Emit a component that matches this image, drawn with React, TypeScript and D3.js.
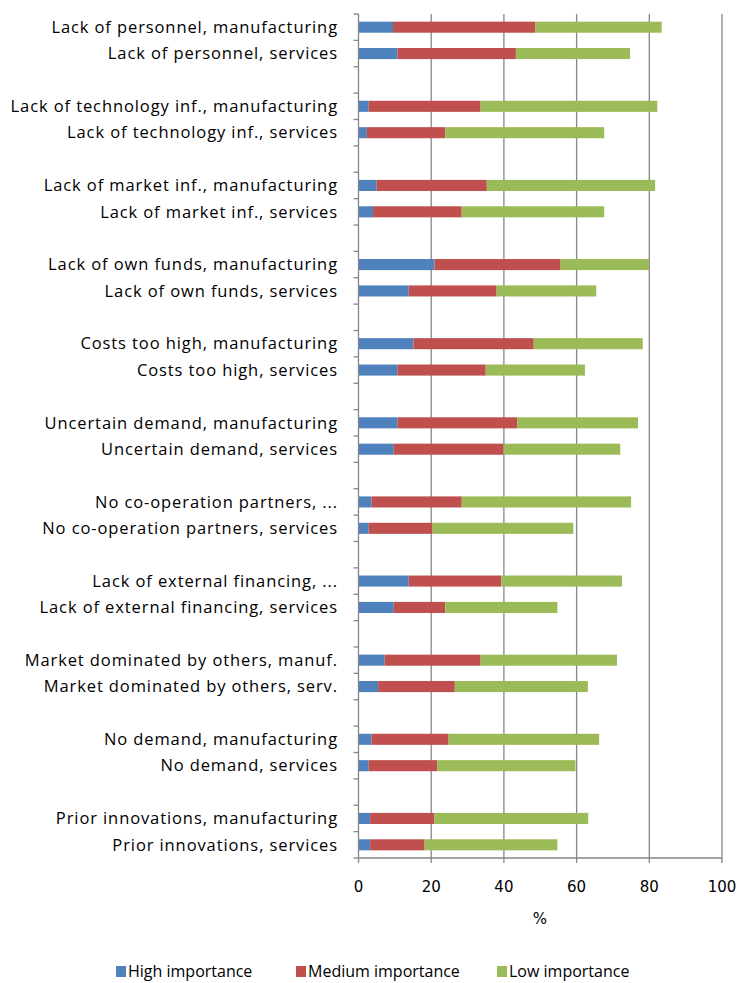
import React from 'react'
import * as d3 from 'd3'

// bar labels, top to bottom (pairs: manufacturing / services)
const categories = [
  'Lack of personnel, manufacturing',
  'Lack of personnel, services',
  'Lack of technology inf., manufacturing',
  'Lack of technology inf., services',
  'Lack of market inf., manufacturing',
  'Lack of market inf., services',
  'Lack of own funds, manufacturing',
  'Lack of own funds, services',
  'Costs too high, manufacturing',
  'Costs too high, services',
  'Uncertain demand, manufacturing',
  'Uncertain demand, services',
  'No co-operation partners, ...',
  'No co-operation partners, services',
  'Lack of external financing, ...',
  'Lack of external financing, services',
  'Market dominated by others, manuf.',
  'Market dominated by others, serv.',
  'No demand, manufacturing',
  'No demand, services',
  'Prior innovations, manufacturing',
  'Prior innovations, services',
]

const high = [9.5, 10.7, 2.8, 2.3, 5.0, 4.0, 20.9, 13.8, 15.1, 10.7, 10.7, 9.7, 3.6, 2.8, 13.8, 9.7, 7.2, 5.4, 3.6, 2.8, 3.2, 3.2]
const medium = [39.1, 32.6, 30.8, 21.6, 30.3, 24.4, 34.7, 24.2, 33.1, 24.3, 33.0, 30.2, 24.8, 17.6, 25.5, 14.2, 26.4, 21.1, 21.2, 18.9, 17.7, 15.0]
const low = [34.8, 31.4, 48.6, 43.7, 46.3, 39.2, 24.3, 27.4, 30.0, 27.3, 33.2, 32.1, 46.6, 38.7, 33.2, 30.8, 37.5, 36.6, 41.4, 38.0, 42.3, 36.5]

const seriesNames = ['High importance', 'Medium importance', 'Low importance']
const seriesColors = ['#4F81BD', '#C0504D', '#9BBB59']
const xTicks = [0, 20, 40, 60, 80, 100]

const width = 738
const height = 983
const labelFont = "'Open Sans', sans-serif"
const tickFont = "'DejaVu Sans', sans-serif"

const App = () => {
  // one slot per bar, with an empty slot between each pair
  const slots: string[] = []
  categories.forEach((c, i) => {
    slots.push(c)
    if (i % 2 === 1 && i < categories.length - 1) slots.push('gap' + i)
  })

  const x = d3.scaleLinear().domain([0, 100]).range([358.5, 722])
  const y = d3.scaleBand().domain(slots).range([14, 858]).padding(0)
  const step = y.bandwidth()
  const barH = step * 0.42

  const rows = categories.map((c, i) => ({ name: c, high: high[i], medium: medium[i], low: low[i] }))
  const stack = d3.stack<any>().keys(['high', 'medium', 'low'])(rows)

  const tickYs = d3.range(slots.length + 1).map(i => 14 + i * step)

  return (
    <div style={{ position: 'absolute', left: 0, top: 0 }}>
      <svg width={width} height={height} style={{ display: 'block', background: '#fff' }}>
        {/* vertical gridlines */}
        {xTicks.slice(1).map(t => (
          <line key={t} x1={x(t)} x2={x(t)} y1={14} y2={858} stroke="#868686" strokeWidth={1.3} />
        ))}

        {/* bars */}
        {stack.map((s, si) => (
          <g key={s.key} fill={seriesColors[si]}>
            {s.map((d, i) => (
              <rect
                key={i}
                x={x(d[0])}
                width={x(d[1]) - x(d[0])}
                y={(y(categories[i]) as number) + (step - barH) / 2}
                height={barH}
              />
            ))}
          </g>
        ))}

        {/* left axis */}
        <line x1={x(0)} x2={x(0)} y1={14} y2={858} stroke="#868686" strokeWidth={1.3} />
        {tickYs.map((ty, i) => (
          <line key={i} x1={x(0) - 5} x2={x(0)} y1={ty} y2={ty} stroke="#868686" strokeWidth={1.3} />
        ))}
        {categories.map(c => (
          <text
            key={c}
            x={338}
            y={(y(c) as number) + step / 2}
            dy="0.35em"
            textAnchor="end"
            fontFamily={labelFont}
            fontSize={16.5}
            letterSpacing={0.9}
            fill="#000"
          >
            {c}
          </text>
        ))}

        {/* bottom axis */}
        <line x1={x(0)} x2={x(100)} y1={858} y2={858} stroke="#868686" strokeWidth={1.3} />
        {xTicks.map(t => (
          <g key={t}>
            <line x1={x(t)} x2={x(t)} y1={858} y2={863} stroke="#868686" strokeWidth={1.3} />
            <text x={x(t)} y={887} dy="0.35em" textAnchor="middle" fontFamily={tickFont} fontSize={15} fill="#000">
              {t}
            </text>
          </g>
        ))}
        <text x={540} y={919} dy="0.35em" textAnchor="middle" fontFamily={tickFont} fontSize={15} fill="#000">%</text>

        {/* legend */}
        {seriesNames.map((n, i) => {
          const lx = [116, 296, 497][i]
          return (
            <g key={n}>
              <rect x={lx} y={966} width={10} height={11} fill={seriesColors[i]} />
              <text x={lx + 12} y={971} dy="0.35em" fontFamily={labelFont} fontSize={16} fill="#000">{n}</text>
            </g>
          )
        })}
      </svg>
    </div>
  )
}

export default App
